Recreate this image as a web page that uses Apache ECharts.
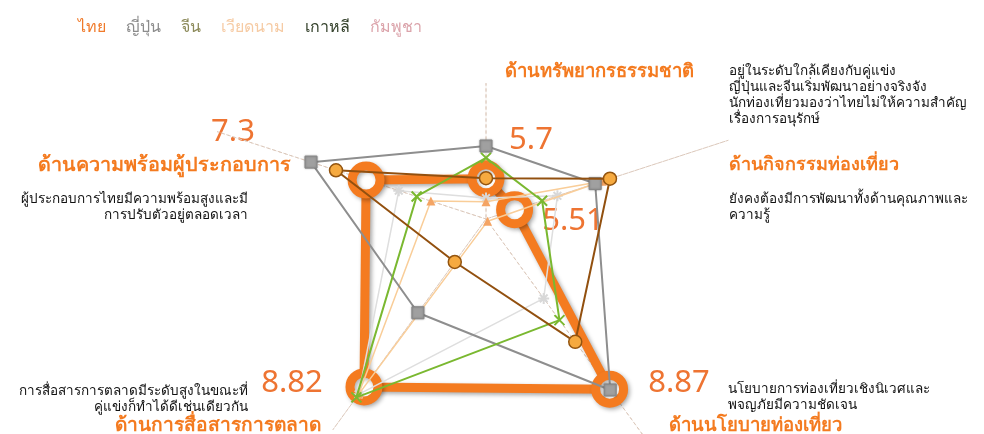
<!DOCTYPE html>
<html>
<head>
<meta charset="utf-8">
<script src="https://cdn.jsdelivr.net/npm/echarts@6/dist/echarts.min.js"></script>
<style>
html,body{margin:0;padding:0;background:#fff;}
#c{width:984px;height:434px;}
</style>
</head>
<body>
<div id="c"></div>
<script>
// Indicators in radar order (counter-clockwise from top)
const dimensions = ['ด้านทรัพยากรธรรมชาติ', 'ด้านความพร้อมผู้ประกอบการ', 'ด้านการสื่อสารการตลาด', 'ด้านนโยบายท่องเที่ยว', 'ด้านกิจกรรมท่องเที่ยว'];
const seriesNames = ['ไทย', 'ญี่ปุ่น', 'จีน', 'เวียดนาม', 'เกาหลี', 'กัมพูชา'];
const thai     = [5.7, 7.3, 8.82, 8.87, 5.51];
const japan    = [6.31, 8.38, 7.11, 8.89, 7.09];
const china    = [6.09, 6.31, 9.06, 7.28, 6.05];
const vietnam  = [5.27, 6.03, 8.99, 5.0, 7.23];
const korea    = [5.71, 7.89, 5.94, 7.78, 7.38];
const cambodia = [5.34, 6.66, 8.99, 6.78, 6.35];
const axisMin = 4.95, axisMax = 10.3;

const FONT = 'Noto Sans, sans-serif';
const ORANGE = '#f47b20';
const NUM = '#ee7432';

// decorative axis line lengths (value units along each axis)
const axisReach = [7.48, 10.22, 9.81, 10.0, 9.70];
const axisLines = axisReach.map((v, i) => ({
  value: dimensions.map((d, j) => j === i ? v : axisMin)
}));

const chart = echarts.init(document.getElementById('c'));

function txt(x, y, text, style) {
  return { type: 'text', x: x, y: y, silent: true,
    style: Object.assign({ text: text, fontFamily: FONT, align: 'left', verticalAlign: 'middle' }, style) };
}
const head = (x, y, t, fs) => txt(x, y, t, { fill: ORANGE, fontSize: fs, fontWeight: 'bold' });
const num = (x, y, t) => txt(x, y, t, { fill: NUM, fontSize: 31, align: 'center' });
const note = (x, y, t, al) => txt(x, y, t, { fill: '#111', fontSize: 13.5, lineHeight: 16, align: al || 'left', verticalAlign: 'top' });

chart.setOption({
  animation: false,
  legend: {
    left: 68, top: 14, icon: 'none', itemWidth: 0, itemHeight: 0, itemGap: 15,
    textStyle: { fontSize: 16, fontFamily: FONT },
    data: [
      { name: 'ไทย', textStyle: { color: '#f07a2a' } },
      { name: 'ญี่ปุ่น', textStyle: { color: '#8c8c8c' } },
      { name: 'จีน', textStyle: { color: '#8c8a5a' } },
      { name: 'เวียดนาม', textStyle: { color: '#f6cba4' } },
      { name: 'เกาหลี', textStyle: { color: '#33402a' } },
      { name: 'กัมพูชา', textStyle: { color: '#dba3aa' } }
    ]
  },
  radar: {
    center: [486, 219],
    radius: 287,
    startAngle: 90,
    shape: 'polygon',
    indicator: dimensions.map(n => ({ name: n, min: axisMin, max: axisMax })),
    axisName: { show: false },
    axisLine: { show: false },
    splitLine: { show: false },
    splitArea: { show: false },
    axisTick: { show: false },
    axisLabel: { show: false }
  },
  series: [
    {
      type: 'radar', silent: true, symbol: 'none', z: 1,
      lineStyle: { color: '#dcc9bc', width: 1, type: [3, 3] },
      data: axisLines
    },
    {
      name: 'ไทย', type: 'radar', z: 2,
      symbol: 'circle', symbolSize: 28,
      lineStyle: { color: ORANGE, width: 9, shadowColor: 'rgba(0,0,0,0.35)', shadowBlur: 4, shadowOffsetX: 2, shadowOffsetY: 2 },
      itemStyle: { color: '#fff', borderColor: ORANGE, borderWidth: 9, shadowColor: 'rgba(0,0,0,0.3)', shadowBlur: 4, shadowOffsetX: 2, shadowOffsetY: 2 },
      data: [{ name: 'ไทย', value: thai }]
    },
    {
      name: 'กัมพูชา', type: 'radar', z: 3,
      symbol: 'path://M5,0L5,10M0,5L10,5M1.5,1.5L8.5,8.5M8.5,1.5L1.5,8.5', symbolSize: 11,
      lineStyle: { color: '#dedede', width: 1.5 },
      itemStyle: { color: '#dcdcdc', borderColor: '#d8d8d8', borderWidth: 2 },
      data: [{ name: 'กัมพูชา', value: cambodia }]
    },
    {
      name: 'เวียดนาม', type: 'radar', z: 4,
      symbol: 'triangle', symbolSize: 9,
      lineStyle: { color: '#f9cd98', width: 1.5 },
      itemStyle: { color: '#f4a464' },
      data: [{ name: 'เวียดนาม', value: vietnam }]
    },
    {
      name: 'ญี่ปุ่น', type: 'radar', z: 5,
      symbol: 'rect', symbolSize: 12,
      lineStyle: { color: '#8e8e8e', width: 2 },
      itemStyle: { color: '#a0a0a0', borderColor: '#888', borderWidth: 1, shadowColor: 'rgba(0,0,0,0.3)', shadowBlur: 2 },
      data: [{ name: 'ญี่ปุ่น', value: japan }]
    },
    {
      name: 'จีน', type: 'radar', z: 6,
      symbol: 'path://M0,0L10,10M10,0L0,10', symbolSize: 10,
      lineStyle: { color: '#7ab830', width: 2 },
      itemStyle: { color: 'none', borderColor: '#7ab830', borderWidth: 2 },
      data: [{ name: 'จีน', value: china }]
    },
    {
      name: 'เกาหลี', type: 'radar', z: 7,
      symbol: 'circle', symbolSize: 13,
      lineStyle: { color: '#92500f', width: 2 },
      itemStyle: { color: '#f6aa40', borderColor: '#93540f', borderWidth: 1.5 },
      data: [{ name: 'เกาหลี', value: korea }]
    }
  ],
  graphic: [
    head(505, 72, 'ด้านทรัพยากรธรรมชาติ', 18.5),
    num(531, 140, '5.7'),
    note(729, 63, 'อยู่ในระดับใกล้เคียงกับคู่แข่ง\nญี่ปุ่นและจีนเริ่มพัฒนาอย่างจริงจัง\nนักท่องเที่ยวมองว่าไทยไม่ให้ความสำคัญ\nเรื่องการอนุรักษ์'),
    head(729, 165, 'ด้านกิจกรรมท่องเที่ยว', 18),
    note(729, 191, 'ยังคงต้องมีการพัฒนาทั้งด้านคุณภาพและ\nความรู้'),
    num(573, 221, '5.51'),
    num(233, 132, '7.3'),
    head(38, 165, 'ด้านความพร้อมผู้ประกอบการ', 19.8),
    note(248, 191, 'ผู้ประกอบการไทยมีความพร้อมสูงและมี\nการปรับตัวอยู่ตลอดเวลา', 'right'),
    num(292, 383, '8.82'),
    note(248, 383, 'การสื่อสารการตลาดมีระดับสูงในขณะที่\nคู่แข่งก็ทำได้ดีเช่นเดียวกัน', 'right'),
    head(115, 426, 'ด้านการสื่อสารการตลาด', 19.2),
    num(679, 383, '8.87'),
    note(728, 381, 'นโยบายการท่องเที่ยวเชิงนิเวศและ\nพจญภัยมีความชัดเจน'),
    head(669, 426, 'ด้านนโยบายท่องเที่ยว', 18.5)
  ]
});
</script>
</body>
</html>
